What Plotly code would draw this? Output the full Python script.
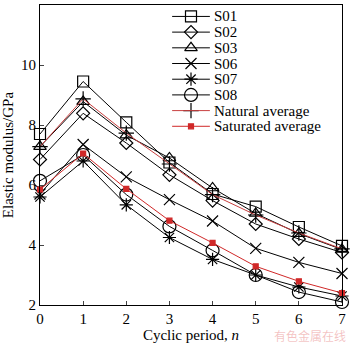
import plotly.graph_objects as go

cycles = [0, 1, 2, 3, 4, 5, 6, 7]
s01 = [7.70, 9.45, 8.09, 6.75, 5.70, 5.28, 4.60, 3.97]
s02 = [6.85, 8.39, 7.40, 6.34, 5.48, 4.70, 4.20, 3.75]
s03 = [7.28, 8.78, 7.66, 6.90, 5.90, 5.05, 4.38, 3.85]
s06 = [5.70, 7.35, 6.27, 5.51, 4.80, 3.89, 3.42, 3.05]
s07 = [5.60, 6.80, 5.34, 4.25, 3.52, 3.00, 2.60, 2.30]
s08 = [6.14, 7.00, 5.68, 4.62, 3.82, 3.00, 2.43, 2.10]
natural_avg = [7.28, 8.87, 7.73, 6.70, 5.68, 5.00, 4.40, 3.87]
saturated_avg = [5.85, 7.05, 5.87, 4.81, 4.07, 3.29, 2.79, 2.40]

names = ["S01", "S02", "S03", "S06", "S07", "S08", "Natural average", "Saturated average"]
series = [s01, s02, s03, s06, s07, s08, natural_avg, saturated_avg]
symbols = ["square-open", "diamond-open", "triangle-up-open", "x-thin-open",
           "asterisk-open", "circle-open", "cross-thin-open", "square"]
sizes = [11, 10, 11, 11, 11, 13, 11, 5]
RED = "#d02828"
line_colors = ["black"] * 6 + ["#c84040", RED]
marker_colors = ["black"] * 7 + [RED]

SERIF = "Liberation Serif"

# plot-area geometry (pixels) used to place the hand-made legend
W, H = 350, 344
ML, MR, MT, MB = 40, 6, 4, 38
PW, PH = W - ML - MR, H - MT - MB


def px_x(x):
    return (x - ML) / PW


def px_y(y):
    return (H - MB - y) / PH


fig = go.Figure()
for nm, ys, sym, sz, lc, mc in zip(names, series, symbols, sizes, line_colors, marker_colors):
    fig.add_trace(go.Scatter(
        x=cycles, y=ys, name=nm, mode="lines+markers",
        line=dict(color=lc, width=1),
        marker=dict(symbol=sym, size=sz, color=mc,
                    line=dict(color=mc, width=1.2)),
        cliponaxis=False, showlegend=False,
    ))

# legend (compact rows as in the reference)
row0, row_gap = 15.5, 15.8
line_x0, line_x1, mark_x, text_x = 173, 211, 192, 214
for i, (nm, sym, sz, lc, mc) in enumerate(zip(names, symbols, sizes, line_colors, marker_colors)):
    yy = px_y(row0 + i * row_gap)
    fig.add_shape(type="line", xref="paper", yref="paper",
                  x0=px_x(line_x0), x1=px_x(line_x1), y0=yy, y1=yy,
                  line=dict(color=lc, width=1))
    fig.add_trace(go.Scatter(
        x=[px_x(mark_x)], y=[yy], xaxis="x2", yaxis="y2", mode="markers",
        marker=dict(symbol=sym, size=sz, color=mc, line=dict(color=mc, width=1.2)),
        showlegend=False, hoverinfo="skip", cliponaxis=False,
    ))
    fig.add_annotation(text=nm, xref="paper", yref="paper", x=px_x(text_x), y=yy,
                       xanchor="left", yanchor="middle", showarrow=False, borderpad=0,
                       font=dict(size=15, family=SERIF, color="black"))

fig.update_layout(
    width=W, height=H,
    margin=dict(l=ML, r=MR, t=MT, b=MB),
    paper_bgcolor="white", plot_bgcolor="white",
    font=dict(family=SERIF, size=15, color="black"),
    showlegend=False,
    xaxis=dict(range=[0, 7], tickvals=cycles, ticks="inside", ticklen=4,
               showline=True, linecolor="black", linewidth=1, mirror=True,
               showgrid=False, zeroline=False,
               title=dict(text="Cyclic period, <i>n</i>", standoff=2,
                          font=dict(size=15, family=SERIF)),
               tickfont=dict(size=15, family=SERIF)),
    yaxis=dict(range=[2, 12], tickvals=[2, 4, 6, 8, 10, 12], ticks="inside", ticklen=4,
               showline=True, linecolor="black", linewidth=1, mirror=True,
               showgrid=False, zeroline=False,
               title=dict(text="Elastic modulus/GPa", standoff=4,
                          font=dict(size=15, family=SERIF)),
               tickfont=dict(size=15, family=SERIF)),
    xaxis2=dict(range=[0, 1], overlaying="x", visible=False, fixedrange=True),
    yaxis2=dict(range=[0, 1], overlaying="y", visible=False, fixedrange=True),
)
fig.add_annotation(text="有色金属在线", xref="paper", yref="paper", x=1.015, y=px_y(337),
                   xanchor="right", yanchor="middle", showarrow=False, borderpad=0,
                   font=dict(size=12, color="rgba(230,120,120,0.45)",
                             family="Noto Sans CJK SC"))
fig.write_html("out.html")
